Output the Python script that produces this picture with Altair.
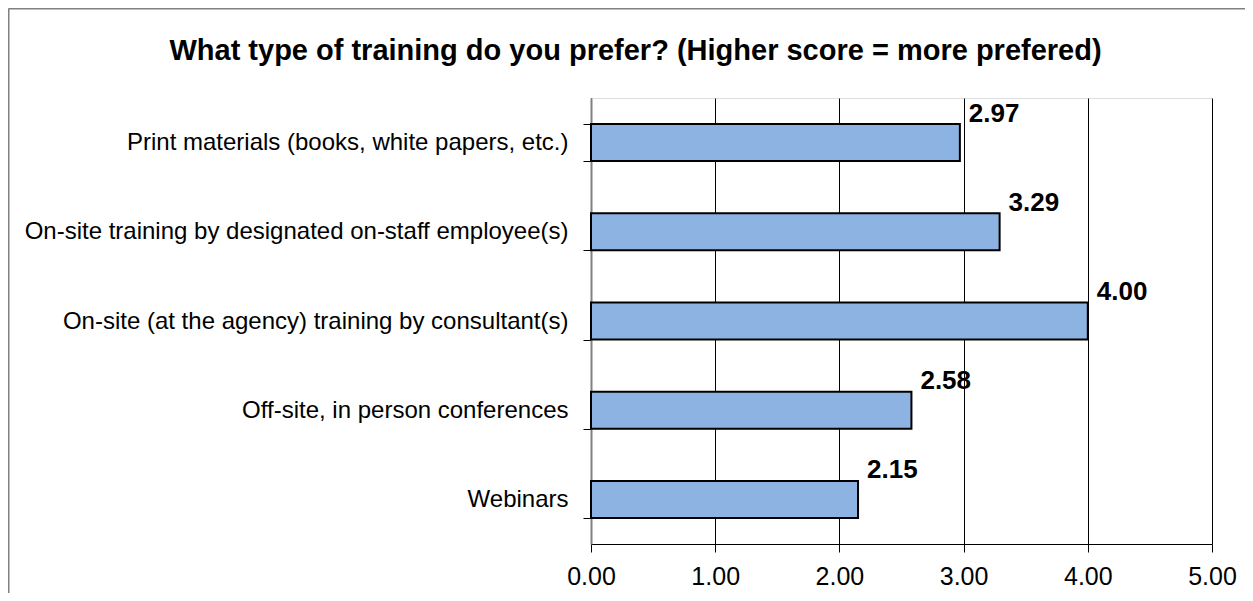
import altair as alt
import pandas as pd

categories = [
    "Print materials (books, white papers, etc.)",
    "On-site training by designated on-staff employee(s)",
    "On-site (at the agency) training by consultant(s)",
    "Off-site, in person conferences",
    "Webinars",
]
scores = [2.97, 3.29, 4.00, 2.58, 2.15]
x_ticks = [0, 1, 2, 3, 4, 5]
title_text = "What type of training do you prefer? (Higher score = more prefered)"

df = pd.DataFrame({"category": categories, "score": scores})
one = pd.DataFrame({"a": [0]})

FONT = "Liberation Sans"

x_enc = alt.X(
    "score:Q",
    scale=alt.Scale(domain=[0, 5], nice=False, zero=True),
    axis=alt.Axis(
        values=x_ticks,
        format=".2f",
        title=None,
        grid=True,
        gridColor="#000000",
        gridWidth=1,
        domainColor="#000000",
        domainWidth=1,
        tickColor="#000000",
        tickSize=8,
        labelFontSize=25,
        labelFont=FONT,
        labelColor="#000000",
        labelPadding=12,
        labelFlush=False,
        labelOverlap=False,
    ),
)
y_enc = alt.Y(
    "category:N",
    sort=categories,
    scale=alt.Scale(paddingInner=0.585, paddingOuter=0.2925),
    axis=alt.Axis(
        title=None,
        grid=False,
        domainColor="#808080",
        domainWidth=2,
        tickColor="#000000",
        tickSize=8,
        tickBand="extent",
        labelFontSize=24,
        labelFont=FONT,
        labelColor="#000000",
        labelLimit=0,
        labelPadding=15,
    ),
)

bars = alt.Chart(df).mark_bar(
    color="#8DB3E2", stroke="#000000", strokeWidth=2
).encode(x=x_enc, y=y_enc)

labels = alt.Chart(df).mark_text(
    align="left", baseline="alphabetic", dx=9, dy=-21,
    fontSize=26, fontWeight="bold", font=FONT, color="#000000"
).encode(x="score:Q", y=alt.Y("category:N", sort=categories),
         text=alt.Text("score:Q", format=".2f"))

frame_left = alt.Chart(one).mark_rule(color="#808080", strokeWidth=2).encode(
    x=alt.value(-582.5), y=alt.value(-89.5), y2=alt.value(500)
)
frame_top = alt.Chart(one).mark_rule(color="#808080", strokeWidth=2).encode(
    x=alt.value(-582.5), x2=alt.value(700), y=alt.value(-89.5)
)

chart = alt.layer(bars, labels, frame_left, frame_top).properties(
    width=621,
    height=446,
    title=alt.TitleParams(
        text=title_text, fontSize=29, fontWeight="bold", font=FONT,
        color="#000000", anchor="middle", dx=-266, offset=-81.5,
        baseline="alphabetic",
    ),
    padding={"left": 583, "top": 90, "right": 33, "bottom": 49},
    autosize=alt.AutoSizeParams(type="none"),
).configure_view(stroke=None).configure(background="#ffffff")

chart.save("out.html", embed_options={"renderer": "svg", "actions": False})
